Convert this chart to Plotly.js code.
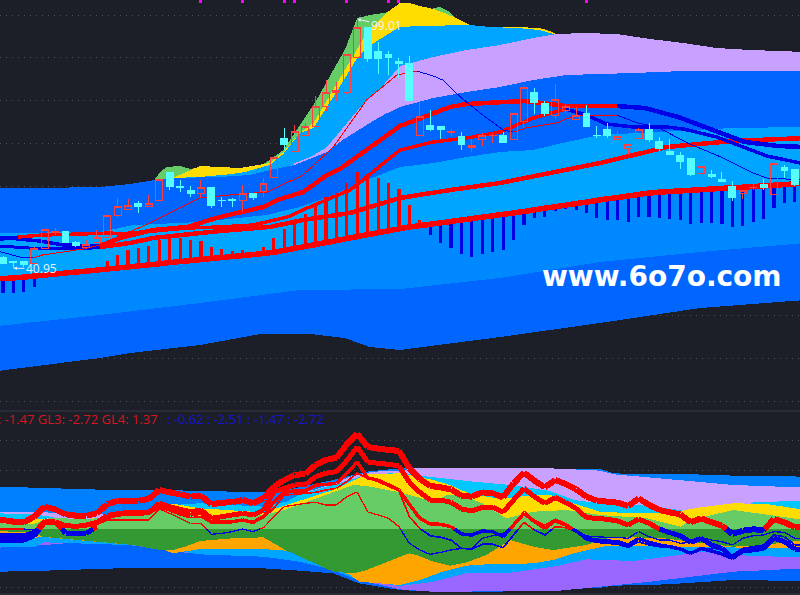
<!DOCTYPE html>
<html>
<head>
<meta charset="utf-8">
<script src="https://cdn.plot.ly/plotly-3.0.1.min.js"></script>
<style>
html,body{margin:0;padding:0;background:#1c1f28;overflow:hidden}
#chart{width:800px;height:595px}
.scatterlayer path,.boxlayer path,.barlayer path{shape-rendering:crispEdges}
</style>
</head>
<body>
<div id="chart"></div>
<script>
// ---------- price candles (index 0..76) ----------
const open_=[43.59,42.43,42.43,42.19,45.46,49.42,49.65,47.09,45.92,47.09,48.25,53.38,54.78,55.95,55.25,56.65,63.4,60.14,59.21,58.51,59.68,56.88,57.11,56.65,58.28,58.75,62.24,71.33,68.3,72.03,73.9,78.56,82.05,82.05,90.21,97.2,91.38,90.91,89.05,88.81,72.03,74.36,73.9,72.5,71.57,69.23,71.1,71.8,72.03,71.1,75.29,82.05,79.49,76.69,77.63,75.53,76.93,72.03,73.2,71.1,69,71.33,73.2,70.63,68.07,67.37,66.44,63.17,62.71,61.77,60.14,58.51,59.68,60.38,58.05,64.57,64.1];
const high_=[43.8,42.66,42.43,45.9,50.12,50.35,49.65,47.32,47.55,49.88,53.38,57.35,57.11,56.65,58.05,61.77,63.4,61.54,60.14,61.54,59.91,57.58,57.35,60.38,58.51,62.01,66.9,73.66,74.36,74.83,81.12,84.85,84.39,90.91,99.01,97.2,93.7,91.61,89.98,90.45,79.72,77.86,74.13,73.43,72.73,71.1,72.5,72.5,72.73,77.16,83.45,82.99,79.96,83.92,79.26,78.56,79.02,74.13,74.83,72.96,69.93,73.66,74.83,71.57,71.1,68.07,66.44,64.8,63.87,63.4,61.31,59.21,61.08,61.77,65.5,65.04,64.1];
const low_=[41.96,40.95,41.3,42.19,45.46,48.72,47.09,45.92,45.46,47.09,48.25,52.92,54.78,53.85,55.25,56.65,59.21,58.75,57.58,57.35,55.02,55.25,55.25,54.08,56.88,57.58,62.24,68.54,68.3,71.1,72.5,77.63,79.96,81.59,89.05,89.05,86.25,86.02,85.32,79.96,72.03,72.96,71.1,71.8,68.54,68.07,69.47,70.17,70.17,71.1,73.66,76.93,76.46,75.76,77.16,75.53,73.9,71.33,71.33,71.1,67.37,71.1,70.4,68.3,67.37,64.1,62.47,62.01,62.01,61.08,56.65,57.11,59.21,59.21,58.05,62.01,60.14];
const close_=[42.19,42.2,41.96,45.69,50.12,49.65,47.09,46.16,46.62,48.25,53.38,55.25,55.71,55.25,56.18,61.77,60.14,59.68,58.28,59.68,55.71,56.65,56.88,58.51,57.58,60.84,66.9,69.93,72.96,73.9,78.56,82.05,82.29,90.91,97.2,89.98,89.98,90.21,88.81,79.96,76.23,73.43,73.43,72.96,69.93,69.7,71.8,72.03,70.17,77.16,82.99,79.72,76.93,80.42,78.56,76.69,74.13,71.8,71.8,71.57,69.93,73.2,70.87,69,67.6,65.97,62.71,64.8,62.47,61.31,57.35,59.21,59.91,59.68,65.5,63.87,60.38];
const signalIdx=[19,23,27,28,33,37,38,56];
// ---------- histogram ends and the thick base average they stand on ----------
const histEnd=[35.2,35.2,35.43,36.6,39.3,39.6,40.1,40.1,40.6,40.8,42.66,44.06,45.23,45.69,46.16,47.56,48.02,48.02,47.56,47.32,45.92,45.46,45,45.23,44.76,45.92,48.02,50.12,51.52,53.62,55.95,57.58,58.51,60.84,63.4,62.94,62.01,60.84,59.44,55.71,52.22,48.72,46.86,45.69,44.29,43.59,44.29,44.76,45.23,47.56,51.05,52.68,52.92,54.32,54.78,54.55,53.85,52.68,52.22,52.22,51.75,52.92,52.92,52.68,52.45,52.22,51.29,51.52,51.52,51.29,50.59,50.82,51.75,52.45,55.02,56.18,56.41];
const baseLine=[38.5,38.7,38.9,39.2,39.5,39.7,39.9,40.1,40.3,40.5,40.7,40.9,41.2,41.5,41.7,42,42.3,42.5,42.7,42.9,43.2,43.4,43.6,43.9,44.1,44.4,44.7,45.1,45.6,46,46.5,46.9,47.4,47.9,48.4,48.9,49.4,49.8,50.3,50.6,50.9,51.2,51.5,51.8,52.2,52.5,52.9,53.2,53.5,53.9,54.2,54.6,54.9,55.3,55.7,56.1,56.4,56.8,57.2,57.5,57.9,58.2,58.5,58.7,58.9,59,59.2,59.3,59.4,59.6,59.7,59.9,60.1,60.3,60.5,60.6,60.8];
// ---------- upper pane averages ----------
const slowX=[-0.3,3.8,7.7,9.3,12.2,14.4,18.6,20.8,25.6,28.8,33.3,38.1,42.9,47.7,52.5,57.3,63.7,70,77];
const slowY=[46.16,45.46,45.46,45.92,46.86,48.02,49.19,49.65,50.59,52.22,53.85,57.35,59.21,60.84,63.17,65.5,69.23,70.63,71.33];
const midAX=[-0.5,3.5,5.8,8,9.3,11.2,14.4,17.7,20.8,25,26.3,28.8,31.1,32.6,38.1,41.3,42.9,44.5,47.7,50,54,58.9,61.6,64.8,68,71.2,74.4,77];
const midAY=[48.25,47.32,46.39,46.16,46.16,48.02,49.89,50.59,52.92,55.25,56.88,58.74,62.71,64.57,74.13,77.16,78.56,79.26,79.72,79.96,78.79,78.79,78.32,76.23,73.2,70.4,69.47,69.23];
const midBX=[-0.5,1.4,3.8,7.4,10.3,11.2,17.7,20.8,24,27.3,29.2,33.3,34.3,38.1,41.3,44.5,47.7,50.9,54,56,57.9,60.5,63.7,65.3,68.5,70,73.3,77];
const midBY=[47.56,48.25,48.72,48.95,49.19,48.95,50.35,50.59,51.05,52.92,55.01,59.21,61.08,68.54,70.4,71.33,72.73,75.99,78.09,76.69,74.6,73.9,73.9,73.43,71.57,70.17,67.14,65.27];
const fastX=[-0.5,1.6,2.9,3.8,7.7,9.3,14.1,18.9,22.7,25.3,27.8,28.8,31.7,34.9,37.8,39.7,41.3,42.2,43.9,45.8,48,49,50.2,53.1,55,58.9,60.9,62.8,65.7,68.9,72,73.3,77];
const fastY=[44.99,43.59,43.36,44.06,45.46,46.39,51.52,57.35,58.28,58.74,61.54,62.71,69.23,80.19,86.02,86.95,85.78,84.85,80.89,77.16,73.2,72.73,73.66,74.83,76.69,76.69,74.83,73.9,70.17,66.9,63.17,62.01,61.54];
// ---------- upper pane bands: upper edge of each colour ----------
const floorX=[-0.5,9.3,12.2,18.9,24.7,29.5,32.8,35.2,38.1,47.7,57.3,63.7,66.9,77];
const floorY=[17.02,20.05,21.21,23.08,25.64,25.64,24.71,22.61,21.92,24.94,28.21,30.54,31.7,33.57];
const greenX=[14.6,15.1,15.7,17,18,18.9,22.7,24.7,25.6,26.9,28.5,30.1,31.7,32.8,34,35.2,37.1,41,41.9,42.9,43.4,44.8,45.8];
const greenY=[61.77,63.4,64.57,64.8,64.1,64.57,64.34,64.8,66.2,68.54,74.36,80.19,87.18,91.85,99.3,100,100.7,101.4,101.87,100.7,99.3,97.67,97.2];
const goldX=[16.3,18,18.9,22.7,24.7,25.6,26.9,28.5,29.8,31.7,33,34.9,36.9,38.1,39,40,41.3,42.6,43.9,44.8,46.7,49.4,51.5,52.5,53.2,54];
const goldY=[62.01,63.87,64.8,64.34,65.04,65.5,68.07,72.5,74.83,82.52,87.88,95.8,100.7,102.8,102.8,102.1,101.4,100.24,98.84,97.67,97.2,97.2,96.97,96.27,95.34,95.1];
const skyX=[16.3,18.9,22,23.2,25.6,26.9,28.5,29.8,31.7,33,34,34.9,36.5,38.1,40,44.8,46.7,49.4,51.5,52.5,53.2];
const skyY=[62.01,62.24,62.94,63.4,65.04,67.6,72.5,73.66,80.89,86.02,89.98,92.31,94.88,97.2,97.44,97.67,97.2,96.97,96.5,95.8,95.46];
const lilacX=[28,29.5,31.1,32.6,34.3,36.5,38.1,41.3,44.5,47.7,50.9,53.2,55.7,58.9,62.1,65.3,68.5,71.7,77];
const lilacY=[65.5,66.9,69.23,73.66,78.56,83.69,88.11,90.21,91.85,93.01,94.64,95.57,95.8,95.57,94.41,93.48,92.31,91.85,91.38];
const royalX=[-0.5,3.5,9.3,12.2,14.6,16.3,20.8,23.7,25.6,28,31.1,32.6,34.9,36.5,38.1,41.3,44.5,47.7,50.9,54.1,60.5,65.3,77];
const royalY=[59.68,59.68,59.91,60.61,61.54,62.01,62.24,62.71,63.87,65.04,68.07,70.87,74.36,76.69,78.56,80.66,82.05,83.22,84.85,86.02,86.48,86.95,86.95];
const sky2X=[-0.5,9.3,12.5,18.9,25.3,28.5,31.7,34.9,38.1,41.3,44.5,47.7,50.9,54.1,57.3,63,70,77];
const sky2Y=[49.19,49.42,51.05,51.75,53.38,55.25,58.05,61.54,64.57,65.5,66.9,68.07,68.54,70.4,72.03,72.73,73.66,73.9];
const lowRoyalX=[-0.5,9.3,18.9,28.5,38.1,47.7,57.3,66.9,77];
const lowRoyalY=[27.51,30.07,32.87,35.9,36.13,38.7,42.43,44.76,46.86];
// ---------- lower pane bands ----------
const aTopX=[-0.5,2.9,9.3,15,19.5,25,27.2,31.7,34.9,38.1,46,52.5,57.3,58.6,60.5,65.3,70.1,77];
const aTopY=[7.22,7.05,6.7,6.65,6.48,6.25,6.65,8.35,9.77,10.34,10.34,10.34,10.23,9.49,9.37,9.37,9.09,8.92];
const bTopX=[-0.5,4.5,9.3,10.5,16.3,18.9,25,27.2,28.5,31.7,33.6,35.6,38.1,39.4,52.5,57.3,58.6,63.7,70.1,77];
const bTopY=[2.95,2.84,2.67,1.82,4.09,4.32,3.81,4.66,5.91,7.78,9.09,9.77,9.94,10.34,10.34,9.94,9.32,8.52,7.5,7.05];
const cTopX=[-0.5,2.9,4.5,6,10,15,16.3,18.9,25,27.2,28.5,31.7,34.9,38.1,40,44.5,48.7,52.5,54.8,57.3,60.5,65,66,70,72,77];
const cTopY=[2.67,2.5,2.1,1.53,1.53,2.95,4.09,4.38,3.81,4.66,5.91,7.5,9.2,9.6,9.09,8.18,7.5,6.48,4.94,4.38,4.2,3.24,2.67,2.67,4.55,4.83];
const dTopX=[-0.5,2.9,4.5,7.1,12.5,15,16.3,18.9,25,27.2,31.7,34.9,38.1,41.3,42.9,44.7,47.7,50.9,52.5,54.7,57.3,60.5,63,65,66.9,70.1,73.3,77];
const dTopY=[1.14,1.53,1.82,1.53,2.5,3.41,4.32,3.52,2.84,4.09,6.65,9.32,9.49,8.35,7.5,6.08,5.11,5.8,5.8,4.38,2.95,2.67,2.67,3.07,3.69,4.38,4.26,3.24];
const eTopX=[-0.5,2.9,4.5,7.1,9.3,12.5,15,16.3,18.9,25,27,31.7,33.6,34.9,38.1,41.3,42.6,44.2,46,48.3,50.9,54.1,57.3,61.8,65,66,70.1,77];
const eTopY=[0.97,0.8,1.93,1.7,1.82,2.67,3.52,3.24,2.1,2.39,3.24,6.25,7.5,7.33,6.25,4.66,5.8,5.68,4.38,1.82,2.95,3.24,2.39,1.82,0.4,1.53,3.24,1.53];
const fLowX=[-0.5,2.9,11,25,28.5,31.7,34.2,38.1,41.3,47.4,52.3,57.3,58.6,63.7,70.1,77];
const fLowY=[-7.27,-7.16,-6.7,-6.7,-7.1,-7.56,-9.26,-10.4,-10.68,-10.68,-10.4,-10,-9.66,-9.43,-8.69,-8.86];
const gLowX=[-0.5,1.6,4,7.1,12,14,18,25,28.5,31.7,33.6,34.9,38.1,41.3,47.7,53,57.3,62.1,70.1,77];
const gLowY=[-3.18,-3.01,-2.73,-2.27,-2.73,-3.18,-4.15,-4.72,-5.57,-6.99,-8.41,-8.98,-10.28,-10.68,-10.68,-10.57,-9.83,-8.98,-7.27,-6.7];
const hLowX=[-0.5,3,4,12,14,18,18.9,25,28.5,31.7,33.6,38.1,41.3,44.5,48.7,52.8,56,60.5,63.7,66.9,70.1,77];
const hLowY=[-3.01,-3.01,-2.27,-2.73,-3.01,-4.15,-4.32,-4.72,-5.57,-6.99,-8.41,-9.72,-8.98,-7.56,-7.44,-6.42,-5.17,-5.45,-4.72,-3.86,-4.43,-4.89];
const iLowX=[-0.5,3,3.5,12.5,14,15.5,16.3,18.9,25,27.2,33.3,34.2,38.1,40,42.2,44.5,46.4,50.9,52.8,54.7,58,60.5,63.7,77];
const iLowY=[-1.59,-1.59,-1.31,-2.73,-3.18,-3.58,-4.15,-3.41,-3.41,-3.69,-7.84,-8.98,-9.55,-8.69,-7.27,-6.25,-6.02,-5.85,-5.28,-4.15,-2.84,-2.84,-3.01,-3.3];
const jLowX=[-0.5,2.9,3.8,7.1,12.5,15,16.3,17.5,18.9,22,25,27.2,31.7,33.6,34.9,38.1,39,39.7,41.3,42.9,44.5,46.4,48.7,50.9,52.8,56,58,60,63,66,70,73,77];
const jLowY=[-0.34,-0.63,-1.31,-1.88,-2.73,-3.58,-3.58,-3.01,-2.05,-1.59,-1.42,-3.69,-7.27,-7.56,-6.99,-4.72,-4.15,-4.43,-5.57,-6.25,-5.68,-4.43,-1.88,-3.01,-3.58,-2.73,-1.59,-1.42,-1.48,-2.16,-3.01,-2.73,-1.88];
// ---------- lower pane lines (index 0..76) ----------
const gl1=[1.53,1.25,1.14,2.1,3.81,3.35,2.5,2.27,2.27,2.67,4.2,4.77,4.83,4.83,5.11,6.65,6.25,5.91,5.51,5.68,4.2,4.49,4.55,4.94,4.38,5.23,7.22,8.35,9.2,9.38,10.91,11.76,12.16,14.43,16.2,13.98,13.69,13.47,13.3,10.34,8.52,7.33,7.1,6.76,5.68,5.51,6.25,6.08,5.4,7.78,9.6,8.24,7.1,8.35,7.67,6.76,5.51,4.83,4.66,4.49,3.92,5.23,4.09,3.24,2.84,2.5,1.14,1.82,1.14,0.57,-0.85,-0.28,-0.06,-0.17,1.7,1.14,0.3];
const gl2=[-1.31,-1.31,-1.31,-0.74,1.36,1.25,0.57,0.45,0.68,1.14,2.27,2.61,2.84,2.73,2.84,4.38,3.81,3.35,2.95,3.24,1.82,2.1,2.39,2.67,2.39,3.24,6.36,6.93,7.5,7.5,8.92,9.5,9.77,11.65,13.98,11.42,11.19,11.02,10.74,7.95,6.25,4.94,4.94,4.55,3.41,3.07,3.69,3.69,2.84,4.94,6.93,5.51,4.38,5.34,4.55,3.52,1.93,1.82,1.65,1.36,0.68,1.7,0.97,0,-0.63,-1.14,-2.27,-1.59,-2.73,-3.3,-4.89,-3.58,-3.3,-3.3,-1.59,-2.16,-3.41];
const gl3=[-1.02,-1.02,-1.02,-0.45,1.53,1.25,0.4,0.4,0.68,0.97,1.93,2.39,2.5,2.5,2.67,3.81,3.24,2.67,2.39,2.67,1.25,1.25,1.25,1.53,1.14,2.1,4.66,6.25,6.48,6.48,7.5,7.6,7.78,9.49,11.42,8.69,8.35,7.5,6.65,4.2,1.82,0.85,0.8,0.4,-0.85,-1.02,-0.34,-0.45,-1.31,0.68,2.67,1.25,0.11,1.42,0.68,-0.34,-1.59,-1.88,-2.05,-2.16,-2.73,-1.59,-2.27,-2.73,-3.01,-3.41,-4.15,-3.3,-3.75,-4.26,-5,-3.86,-3.69,-3.41,-1.59,-2.05,-3.58];
const gl4=[-1.31,-1.31,-1.31,-0.74,1.25,1.14,0.34,0.34,0.57,0.85,1.82,2.22,2.39,2.39,2.5,3.81,3.07,2.39,1.93,2.1,0.97,1.08,1.08,1.42,0.97,1.93,3.52,5.8,5.91,6.08,6.25,6.65,6.93,8.07,9.55,8.64,8.07,7.27,6.48,2.1,0.11,-1.14,-1.42,-1.88,-3.3,-3.41,-2.61,-2.61,-3.18,-1.02,1.14,-0.17,-1.02,0.4,0.23,-0.45,-1.88,-2.27,-2.44,-2.61,-3.13,-2.16,-2.73,-3.01,-3.01,-3.41,-4.15,-3.3,-3.3,-3.41,-4.43,-3.3,-3.01,-2.73,-1.02,-1.31,-2.73];
const gl5=[0,0,0,-0.17,1.53,1.36,0.4,0.4,0.4,0.68,1.53,1.53,1.53,1.53,1.53,3.41,2.67,1.82,0.97,0.97,-0.91,-0.74,-0.45,0,-0.45,0.23,2.1,3.81,4.09,4.38,4.55,4.09,4.09,5.51,6.31,2.9,2.39,1.82,0.4,-2.44,-3.58,-4.32,-3.98,-3.58,-3.3,-3.3,-1.59,-1.14,-0.74,0.4,3.07,1.53,0.68,1.7,0.97,-0.17,-1.19,-1.31,-1.42,-1.42,-1.59,-0.45,-1.31,-1.88,-1.88,-2.44,-2.27,-1.48,-1.88,-2.16,-2.73,-1.59,-1.14,-1.02,-0.45,-0.57,-1.59];
const gl6=[-1.88,-1.88,-1.88,-1.14,1.14,1.14,-0.68,-0.68,-0.74,0.4];
// ---------- labels ----------
const highLabel='99.01', lowLabel='40.95', site='www.6o7o.com';
const redLegend='GL2: -1.47 GL3: -2.72 GL4: 1.37';
const blueLegend=': -0.62 : -2.51 : -1.47 : -2.72';

// ---------- styles ----------
const BG='#1c1f28', RED='#ff0000', BLUE='#0000e6';
const idx=open_.map((_,i)=>i);
const traces=[];

function edge(x,y){return {x:[-0.5,...x,77],y:[y[0],...y,y[y.length-1]]};}
function poly(tx,ty,bx,by,color,yaxis){
  traces.push({type:'scatter',mode:'lines',x:[...tx,...[...bx].reverse()],y:[...ty,...[...by].reverse()],
    fill:'toself',fillcolor:color,line:{width:0},hoverinfo:'skip',yaxis:yaxis,xaxis:'x',showlegend:false});
}
function line(x,y,color,w,yaxis){
  traces.push({type:'scatter',mode:'lines',x:x,y:y,line:{color:color,width:w,shape:'linear'},
    hoverinfo:'skip',yaxis:yaxis,xaxis:'x',showlegend:false,connectgaps:false});
}
function runs(x,y,list,yaxis){
  let from=-Infinity;
  list.forEach(r=>{
    const xs=[],ys=[];
    x.forEach((v,i)=>{if(v>=from&&v<=r[0]){xs.push(v);ys.push(y[i]);}});
    line(xs,ys,r[1],r[2],yaxis);from=r[0];
  });
}
function signed(x,y,w){
  const rx=[],ry=[],bx=[],by=[];
  for(let i=0;i<x.length-1;i++){
    const a=y[i],b=y[i+1];
    if(a>=0&&b>=0){rx.push(x[i],x[i+1],null);ry.push(a,b,null);}
    else if(a<0&&b<0){bx.push(x[i],x[i+1],null);by.push(a,b,null);}
    else{
      const c=x[i]+(x[i+1]-x[i])*a/(a-b);
      if(a>=0){rx.push(x[i],c,null);ry.push(a,0,null);bx.push(c,x[i+1],null);by.push(0,b,null);}
      else{bx.push(x[i],c,null);by.push(a,0,null);rx.push(c,x[i+1],null);ry.push(0,b,null);}
    }
  }
  line(bx,by,BLUE,w,'y2');line(rx,ry,RED,w,'y2');
}

const base=edge(idx,baseLine);
poly(greenX,greenY,floorX,floorY,'#66cc66','y');
poly(goldX,goldY,floorX,floorY,'#ffdd00','y');
poly(skyX,skyY,floorX,floorY,'#00a5ff','y');
poly(lilacX,lilacY,floorX,floorY,'#c8a0ff','y');
poly(royalX,royalY,floorX,floorY,'#0066ff','y');
poly(sky2X,sky2Y,floorX,floorY,'#00a5ff','y');
poly(base.x,base.y,floorX,floorY,'#0088ff','y');
poly(lowRoyalX,lowRoyalY,floorX,floorY,'#0066ff','y');

const zeroX=[-0.5,77],zeroY=[0,0];
poly(aTopX,aTopY,zeroX,zeroY,'#0080ff','y2');
poly(bTopX,bTopY,zeroX,zeroY,'#c8a0ff','y2');
poly(cTopX,cTopY,zeroX,zeroY,'#00c8ff','y2');
poly(dTopX,dTopY,zeroX,zeroY,'#ffdd00','y2');
poly(eTopX,eTopY,zeroX,zeroY,'#66cc66','y2');
poly(fLowX,fLowY,zeroX,zeroY,'#0066ff','y2');
poly(gLowX,gLowY,zeroX,zeroY,'#9966ff','y2');
poly(hLowX,hLowY,zeroX,zeroY,'#00a5ff','y2');
poly(iLowX,iLowY,zeroX,zeroY,'#ffa500','y2');
poly(jLowX,jLowY,zeroX,zeroY,'#339933','y2');

const e5=edge(idx,gl5),e4=edge(idx,gl4),e3=edge(idx,gl3),e2=edge(idx,gl2),e1=edge(idx,gl1);
const g6=edge(gl6.map((_,i)=>i),gl6);
signed(e5.x,e5.y,1.3);
signed(e4.x,e4.y,1.7);
signed(e3.x,e3.y,3.5);
signed(g6.x.slice(0,-1),g6.y.slice(0,-1),5);
signed(e2.x,e2.y,5);
signed(e1.x,e1.y,6);

traces.push({type:'bar',x:idx,base:baseLine,y:histEnd.map((v,i)=>v-baseLine[i]),width:0.3,
  marker:{color:histEnd.map((v,i)=>v>=baseLine[i]?RED:BLUE),line:{width:0}},
  yaxis:'y3',xaxis:'x',hoverinfo:'skip',showlegend:false});
line(base.x,base.y,RED,5.5,'y3');
runs(slowX,slowY,[[9.3,BLUE,3],[77,RED,4.5]],'y3');
runs(midAX,midAY,[[9.3,BLUE,3.5],[58.9,RED,4.5],[77,BLUE,4.5]],'y3');
runs(midBX,midBY,[[1.4,BLUE,3],[54,RED,3.5],[77,BLUE,3.5]],'y3');
runs(fastX,fastY,[[2.9,BLUE,1],[39.7,RED,1],[49,BLUE,1],[58.9,RED,1],[77,BLUE,1]],'y3');

traces.push({type:'candlestick',x:idx,open:open_,high:high_,low:low_,close:close_,yaxis:'y4',xaxis:'x',
  increasing:{line:{color:'#ff4040',width:1},fillcolor:'rgba(0,0,0,0)'},
  decreasing:{line:{color:'#55ffff',width:1},fillcolor:'#55ffff'},
  whiskerwidth:0,hoverinfo:'skip',showlegend:false});
traces.push({type:'scatter',mode:'markers',x:signalIdx,y:signalIdx.map(()=>103.1),yaxis:'y4',xaxis:'x',
  marker:{symbol:'square',size:3,color:'#ff00ff'},hoverinfo:'skip',showlegend:false});

const upperDomain=[1-411/595,1], lowerDomain=[0,1-412/595];
const upperRange=[103.5-0.2331*411,103.5];
const hidden={visible:false,domain:upperDomain,range:upperRange,overlaying:'y'};
const dots='1px,5px';
const gridC='rgba(255,255,255,0.22)';
const layout={
  width:800,height:595,margin:{l:0,r:0,t:0,b:0},paper_bgcolor:BG,plot_bgcolor:BG,
  showlegend:false,dragmode:false,barmode:'overlay',boxmode:'overlay',boxgap:0.05,
  xaxis:{range:[-0.288,76.49],visible:false,rangeslider:{visible:false},fixedrange:true},
  yaxis:{domain:upperDomain,range:upperRange,tick0:0,dtick:10,showgrid:true,griddash:dots,gridcolor:gridC,gridwidth:1,
    zeroline:false,showline:false,showticklabels:false,ticks:'',fixedrange:true},
  yaxis2:{domain:lowerDomain,range:[-11.24,19.93],tick0:0,dtick:5,showgrid:true,griddash:dots,gridcolor:gridC,gridwidth:1,
    zeroline:false,showline:false,showticklabels:false,ticks:'',fixedrange:true},
  yaxis3:Object.assign({},hidden),
  yaxis4:Object.assign({},hidden),
  shapes:[
    {type:'line',xref:'paper',yref:'paper',x0:0,x1:1,y0:1-411/595,y1:1-411/595,line:{color:'#363a45',width:1}},
    {type:'line',xref:'paper',yref:'paper',x0:0,x1:1,y0:1/595,y1:1/595,line:{color:'#363a45',width:1}}
  ],
  annotations:[
    {xref:'x',yref:'y4',x:34,y:99.01,text:highLabel,showarrow:true,ax:29,ay:6,arrowcolor:'#e8f0ff',arrowwidth:1,arrowhead:2,arrowsize:0.7,
      font:{family:'Open Sans',size:12,color:'#e8f4ff'}},
    {xref:'x',yref:'y4',x:1,y:40.95,text:lowLabel,showarrow:true,ax:28,ay:0,arrowcolor:'#e8f0ff',arrowwidth:1,arrowhead:2,arrowsize:0.7,
      font:{family:'Open Sans',size:12,color:'#e8f4ff'}},
    {xref:'paper',yref:'paper',x:662/800,y:1-276/595,xanchor:'center',yanchor:'middle',text:'<b>'+site+'</b>',showarrow:false,
      font:{family:'DejaVu Sans',size:28,color:'#ffffff'}},
    {xref:'paper',yref:'paper',x:160/800,y:1-419/595,xanchor:'right',yanchor:'middle',text:redLegend,showarrow:false,
      font:{family:'Open Sans',size:13,color:'#d8141e'}},
    {xref:'paper',yref:'paper',x:165/800,y:1-419/595,xanchor:'left',yanchor:'middle',text:blueLegend,showarrow:false,
      font:{family:'Open Sans',size:13,color:'#1414d2'}}
  ]
};
Plotly.newPlot('chart',traces,layout,{displayModeBar:false,staticPlot:true});
</script>
</body>
</html>
